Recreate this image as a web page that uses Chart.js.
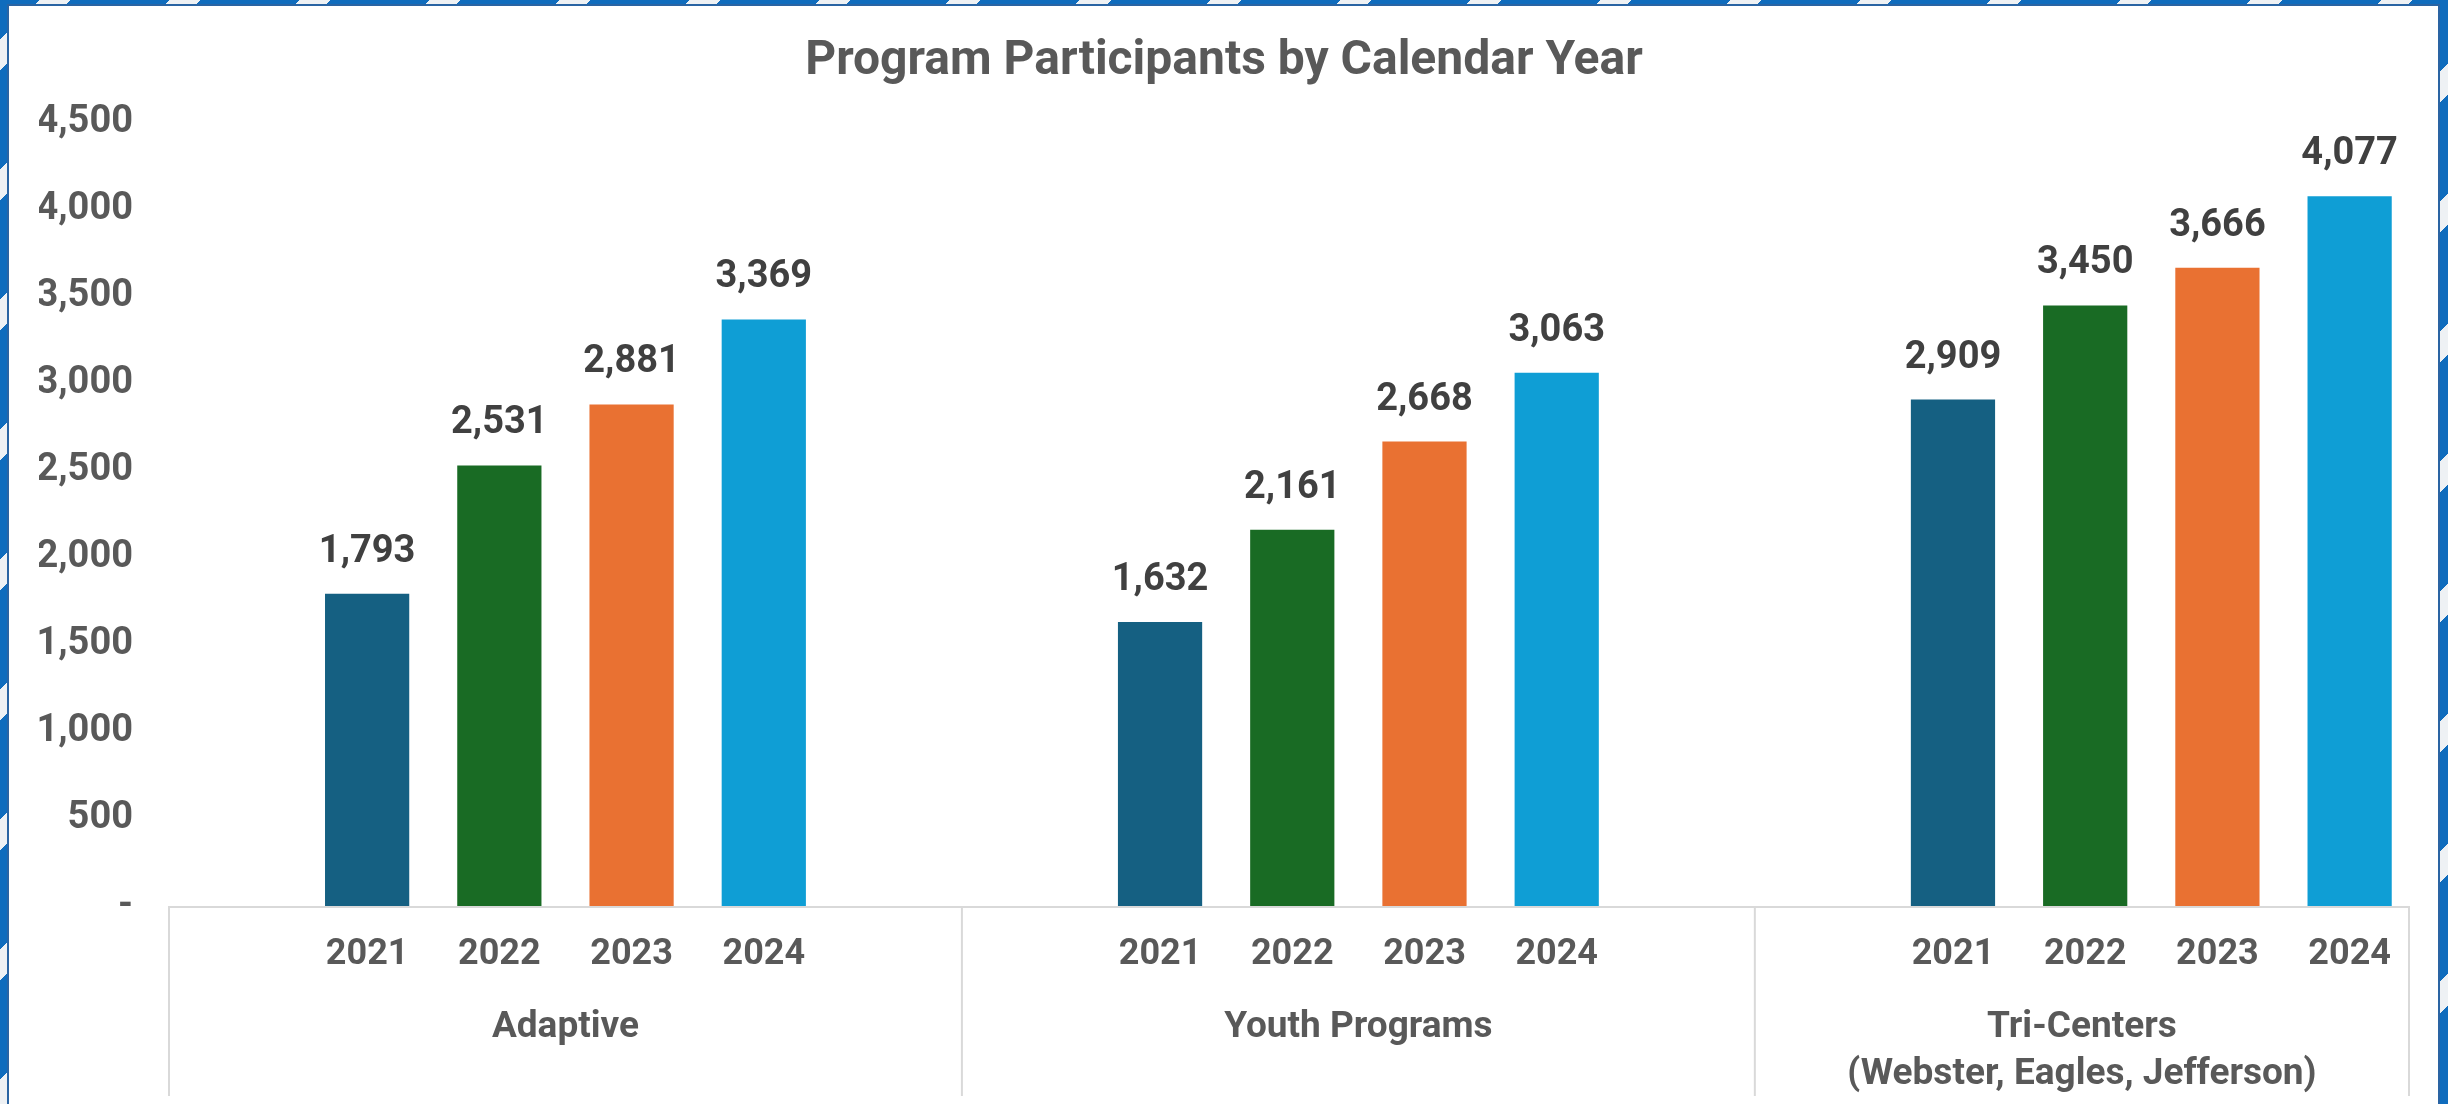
<!DOCTYPE html>
<html>
<head>
<meta charset="utf-8">
<title>Program Participants by Calendar Year</title>
<script src="https://cdn.jsdelivr.net/npm/chart.js@4.4.0/dist/chart.umd.min.js"></script>
<style>
  html, body { margin: 0; padding: 0; width: 2448px; height: 1104px; overflow: hidden; }
  body {
    position: relative;
    background: repeating-linear-gradient(-45deg, #0f6cbd 0 70px, #eef1f4 70px 92px);
  }
  #marco {
    position: absolute; left: 7px; top: 4px; width: 2429px; height: 1130px;
    background: #ffffff; border: 2px solid #2a64a3;
  }
  #grafico { position: absolute; left: 0; top: 0; }
</style>
</head>
<body>
<div id="marco"></div>
<canvas id="grafico" width="2448" height="1104"></canvas>
<script>
// ==========================================
// DATA
// ==========================================
const programas = ['Adaptive', 'Youth Programs', ['Tri-Centers', '(Webster, Eagles, Jefferson)']];
const anios = ['2021', '2022', '2023', '2024'];
const part2021 = [1793, 1632, 2909];
const part2022 = [2531, 2161, 3450];
const part2023 = [2881, 2668, 3666];
const part2024 = [3369, 3063, 4077];
const ticksY = [0, 500, 1000, 1500, 2000, 2500, 3000, 3500, 4000, 4500];

const series = [part2021, part2022, part2023, part2024];
const colores = ['#156082', '#196b24', '#e97132', '#0f9ed5'];

const fuente = 'Roboto, "Liberation Sans", Arial, sans-serif';
const gris = '#595959';

const formato = (v) => v === 0 ? '-' : v.toLocaleString('en-US');

// ==========================================
// LABELS, AXIS LINE AND GROUP SEPARATORS
// ==========================================
const etiquetasPlugin = {
    id: 'etiquetas',
    afterDatasetsDraw(chart) {
        const { ctx, chartArea, scales: { x } } = chart;
        const base = chartArea.bottom;
        ctx.save();

        // axis line + group separators
        const limites = [x.getPixelForValue(-0.5), x.getPixelForValue(0.5), x.getPixelForValue(1.5), chartArea.right];
        ctx.strokeStyle = '#d9d9d9';
        ctx.lineWidth = 2;
        ctx.beginPath();
        ctx.moveTo(limites[0], base + 1);
        ctx.lineTo(chartArea.right, base + 1);
        limites.forEach(px => {
            ctx.moveTo(px, base);
            ctx.lineTo(px, base + 190);
        });
        ctx.stroke();

        ctx.textAlign = 'center';

        chart.data.datasets.forEach((ds, di) => {
            chart.getDatasetMeta(di).data.forEach((bar, i) => {
                // value above bar
                ctx.font = `bold 38px ${fuente}`;
                ctx.fillStyle = '#404040';
                ctx.textBaseline = 'alphabetic';
                ctx.fillText(formato(ds.data[i].y), bar.x, bar.y - 32);
                // year under bar
                ctx.font = `bold 36px ${fuente}`;
                ctx.fillStyle = gris;
                ctx.textBaseline = 'middle';
                ctx.fillText(anios[di], bar.x, base + 49);
            });
        });

        // program names
        ctx.font = `bold 37px ${fuente}`;
        ctx.fillStyle = gris;
        ctx.textBaseline = 'middle';
        programas.forEach((p, i) => {
            const cx = (limites[i] + limites[i + 1]) / 2;
            const lineas = Array.isArray(p) ? p : [p];
            lineas.forEach((t, j) => ctx.fillText(t, cx, base + 122 + j * 47));
        });

        ctx.restore();
    }
};

new Chart(document.getElementById('grafico'), {
    type: 'bar',
    data: {
        datasets: series.map((valores, k) => ({
            label: anios[k],
            data: valores.map((v, i) => ({ x: i, y: v })),
            backgroundColor: colores[k],
            borderWidth: 0,
            categoryPercentage: 0.667,
            barPercentage: 0.637
        }))
    },
    options: {
        responsive: false,
        animation: false,
        layout: { padding: { left: 39, right: 39, top: 0, bottom: 198 } },
        plugins: {
            legend: { display: false },
            tooltip: { enabled: false },
            title: {
                display: true,
                text: 'Program Participants by Calendar Year',
                color: gris,
                font: { family: fuente, size: 48, weight: 'bold', lineHeight: 1.2 },
                padding: { top: 33, bottom: 32 }
            }
        },
        scales: {
            x: {
                type: 'linear',
                display: false,
                offset: false,
                min: -0.5,
                max: 2.325,
                afterBuildTicks: (scale) => { scale.ticks = [0, 1, 2].map(v => ({ value: v })); }
            },
            y: {
                min: 0,
                max: 4500,
                afterBuildTicks: (scale) => { scale.ticks = ticksY.map(v => ({ value: v })); },
                afterFit: (scale) => { scale.width = 130; },
                grid: { display: false, drawTicks: false },
                border: { display: false },
                ticks: {
                    color: gris,
                    padding: 36,
                    font: { family: fuente, size: 38, weight: 'bold' },
                    callback: (v) => formato(v)
                }
            }
        }
    },
    plugins: [etiquetasPlugin]
});
</script>
</body>
</html>
